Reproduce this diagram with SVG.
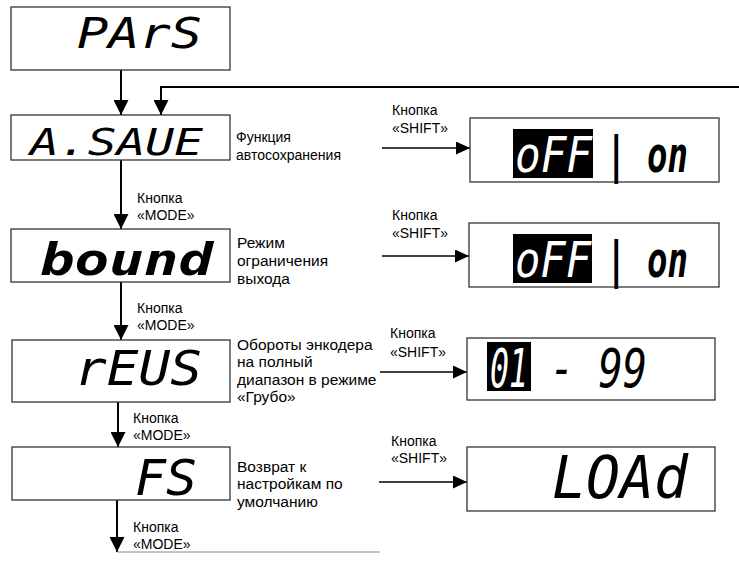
<svg xmlns="http://www.w3.org/2000/svg" width="739" height="561" viewBox="0 0 739 561">
<defs>
<marker id="ah" markerUnits="userSpaceOnUse" markerWidth="16" markerHeight="15" refX="15" refY="7.5" orient="auto"><path d="M0,0 L15,7.5 L0,15 Z" fill="#000"/></marker>
<marker id="ahs" markerUnits="userSpaceOnUse" markerWidth="15" markerHeight="13" refX="14" refY="6.5" orient="auto"><path d="M0,0 L14,6.5 L0,13 Z" fill="#000"/></marker>
<style>
.box{fill:#fff;stroke:#333;stroke-width:1.3}
.seg{font-family:"DejaVu Sans Mono",monospace;font-style:italic;fill:#000}
.inv{fill:#fff}
.lbl{font-family:"Liberation Sans",Arial,sans-serif;font-size:14px;fill:#000}
.dsc{font-family:"Liberation Sans",Arial,sans-serif;font-size:15.5px;fill:#000}
.va{stroke:#000;stroke-width:2;fill:none;marker-end:url(#ah)}
.ha{stroke:#000;stroke-width:1.5;fill:none;marker-end:url(#ahs)}
</style>
</defs>
<rect width="739" height="561" fill="#fff"/>
<g id="connectors">
<line class="va" x1="121" y1="70" x2="121" y2="115"/>
<path class="va" d="M739,87 H161 V115"/>
<line class="va" x1="121" y1="160" x2="121" y2="229"/>
<line class="va" x1="121" y1="282" x2="121" y2="340"/>
<line class="va" x1="118" y1="402" x2="118" y2="447"/>
<line class="va" x1="117" y1="500" x2="117" y2="552"/>
<line x1="117" y1="552" x2="380" y2="552" stroke="#888" stroke-width="1"/>
<line class="ha" x1="382" y1="148" x2="470" y2="148"/>
<line class="ha" x1="382" y1="256" x2="469" y2="256"/>
<line class="ha" x1="380" y1="372" x2="467" y2="372"/>
<line class="ha" x1="379" y1="482" x2="467" y2="482"/>
<text class="lbl" x="137" y="203">Кнопка</text>
<text class="lbl" x="137" y="220">«MODE»</text>
<text class="lbl" x="137" y="313">Кнопка</text>
<text class="lbl" x="137" y="330">«MODE»</text>
<text class="lbl" x="133" y="423">Кнопка</text>
<text class="lbl" x="133" y="440">«MODE»</text>
<text class="lbl" x="133" y="532">Кнопка</text>
<text class="lbl" x="133" y="549">«MODE»</text>
<text class="lbl" x="392" y="115">Кнопка</text>
<text class="lbl" x="392" y="133">«SHIFT»</text>
<text class="lbl" x="392" y="220">Кнопка</text>
<text class="lbl" x="392" y="238">«SHIFT»</text>
<text class="lbl" x="390" y="338">Кнопка</text>
<text class="lbl" x="390" y="357">«SHIFT»</text>
<text class="lbl" x="391" y="446">Кнопка</text>
<text class="lbl" x="391" y="463">«SHIFT»</text>
</g>
<g id="node-pars">
<rect class="box" x="11" y="7" width="219" height="63"/>
<text class="seg" x="77" y="48" font-size="42" textLength="125" lengthAdjust="spacingAndGlyphs">PArS</text>
</g>
<g id="node-asave">
<rect class="box" x="11" y="115" width="219" height="45"/>
<text class="seg" x="30" y="155" font-size="38" textLength="173" lengthAdjust="spacingAndGlyphs">A.SAUE</text>
<text class="lbl" x="236" y="142">Функция</text>
<text class="lbl" x="236" y="160">автосохранения</text>
</g>
<g id="node-bound">
<rect class="box" x="11" y="229" width="219" height="53"/>
<text class="seg" x="40" y="275" font-size="44" font-weight="bold" textLength="173" lengthAdjust="spacingAndGlyphs">bound</text>
<text class="dsc" x="237" y="248">Режим</text>
<text class="dsc" x="237" y="266">ограничения</text>
<text class="dsc" x="237" y="284">выхода</text>
</g>
<g id="node-revs">
<rect class="box" x="12" y="340" width="218" height="62"/>
<text class="seg" x="75" y="385" font-size="48" textLength="127" lengthAdjust="spacingAndGlyphs">rEUS</text>
<text class="dsc" x="237" y="350">Обороты энкодера</text>
<text class="dsc" x="237" y="367">на полный</text>
<text class="dsc" x="237" y="385">диапазон в режиме</text>
<text class="dsc" x="237" y="402">«Грубо»</text>
</g>
<g id="node-fs">
<rect class="box" x="12" y="447" width="218" height="53"/>
<text class="seg" x="135" y="495" font-size="50" textLength="62" lengthAdjust="spacingAndGlyphs">FS</text>
<text class="dsc" x="237" y="472">Возврат к</text>
<text class="dsc" x="237" y="489">настройкам по</text>
<text class="dsc" x="237" y="507">умолчанию</text>
</g>
<g id="node-asave-value">
<rect class="box" x="470" y="118" width="249" height="64"/>
<rect x="513" y="129" width="80" height="49" fill="#000"/>
<text class="seg inv" x="515" y="172" font-size="50" textLength="77" lengthAdjust="spacingAndGlyphs">oFF</text>
<text class="seg" x="606" y="172" font-size="50" font-weight="bold" textLength="82" lengthAdjust="spacingAndGlyphs">| on</text>
</g>
<g id="node-bound-value">
<rect class="box" x="469" y="223" width="250" height="64"/>
<rect x="513" y="234" width="79" height="49" fill="#000"/>
<text class="seg inv" x="515" y="277" font-size="50" textLength="76" lengthAdjust="spacingAndGlyphs">oFF</text>
<text class="seg" x="606" y="277" font-size="50" font-weight="bold" textLength="82" lengthAdjust="spacingAndGlyphs">| on</text>
</g>
<g id="node-revs-value">
<rect class="box" x="467" y="338" width="248" height="62"/>
<rect x="487" y="342" width="44" height="49" fill="#000"/>
<text class="seg inv" x="490" y="387" font-size="53" textLength="38" lengthAdjust="spacingAndGlyphs">01</text>
<text class="seg" x="550" y="387" font-size="53" textLength="97" lengthAdjust="spacingAndGlyphs">- 99</text>
</g>
<g id="node-fs-value">
<rect class="box" x="467" y="447" width="248" height="64"/>
<text class="seg" x="552" y="498" font-size="59" textLength="136" lengthAdjust="spacingAndGlyphs">LOAd</text>
</g>
</svg>
